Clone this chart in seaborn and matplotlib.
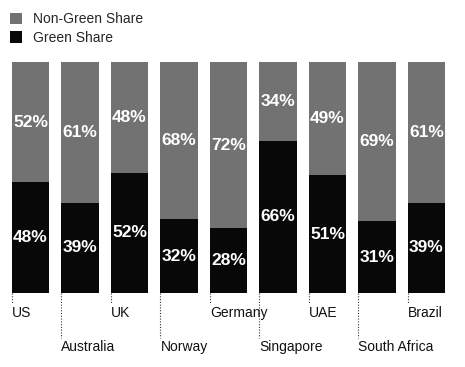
import numpy as np
import pandas as pd
import seaborn as sns
import matplotlib.pyplot as plt
from matplotlib.patches import Patch
from matplotlib.transforms import blended_transform_factory

# Chart data
countries = ["US", "Australia", "UK", "Norway", "Germany",
             "Singapore", "UAE", "South Africa", "Brazil"]
green_share = [48, 39, 52, 32, 28, 66, 51, 31, 39]
non_green_share = [52, 61, 48, 68, 72, 34, 49, 69, 61]

df = pd.DataFrame({"country": countries,
                   "green": green_share,
                   "non_green": non_green_share})
df["total"] = df["green"] + df["non_green"]

sns.set_style("white")
plt.rcParams["font.family"] = ["Liberation Sans", "DejaVu Sans"]

gray = "#727272"
black = "#080808"

fig = plt.figure(figsize=(4.65, 3.67), dpi=100)
ax = fig.add_axes([0.0124, 0.2016, 0.958, 0.6294])

# stacked bars: full bar in gray, green share drawn over it in black
sns.barplot(data=df, x="country", y="total", color=gray, width=0.75,
            saturation=1, linewidth=0, edgecolor="none", ax=ax)
sns.barplot(data=df, x="country", y="green", color=black, width=0.75,
            saturation=1, linewidth=0, edgecolor="none", ax=ax)

ax.set_xlim(-0.5, len(countries) - 0.5)
ax.set_ylim(0, 100)
ax.axis("off")

# percentage labels in the middle of each segment
for i, row in df.iterrows():
    ax.text(i, row["green"] / 2, f"{row['green']}%", color="white",
            ha="center", va="center", fontsize=12.5, fontweight="bold")
    ax.text(i, row["green"] + row["non_green"] / 2, f"{row['non_green']}%",
            color="white", ha="center", va="center", fontsize=12.5,
            fontweight="bold")

# country names in two staggered rows with dotted leaders
trans = blended_transform_factory(ax.transData, ax.transAxes)
for i, name in enumerate(countries):
    left = i - 0.375
    if i % 2 == 0:
        y_end, y_txt = -0.045, -0.087
    else:
        y_end, y_txt = -0.195, -0.234
    ax.plot([left, left], [0, y_end], transform=trans, color="#333333",
            linestyle=(0, (1, 1.5)), linewidth=0.8, clip_on=False)
    ax.text(left, y_txt, name, transform=trans, ha="left", va="center",
            fontsize=10, color="#111111")

handles = [Patch(facecolor=gray, edgecolor="none"),
           Patch(facecolor=black, edgecolor="none")]
fig.legend(handles, ["Non-Green Share", "Green Share"], loc="upper left",
           bbox_to_anchor=(0.015, 0.975), frameon=False, fontsize=10,
           handlelength=0.85, handleheight=0.85, handletextpad=0.8,
           labelspacing=0.35, borderpad=0.2, borderaxespad=0)

fig.savefig("out.png", dpi=100)
